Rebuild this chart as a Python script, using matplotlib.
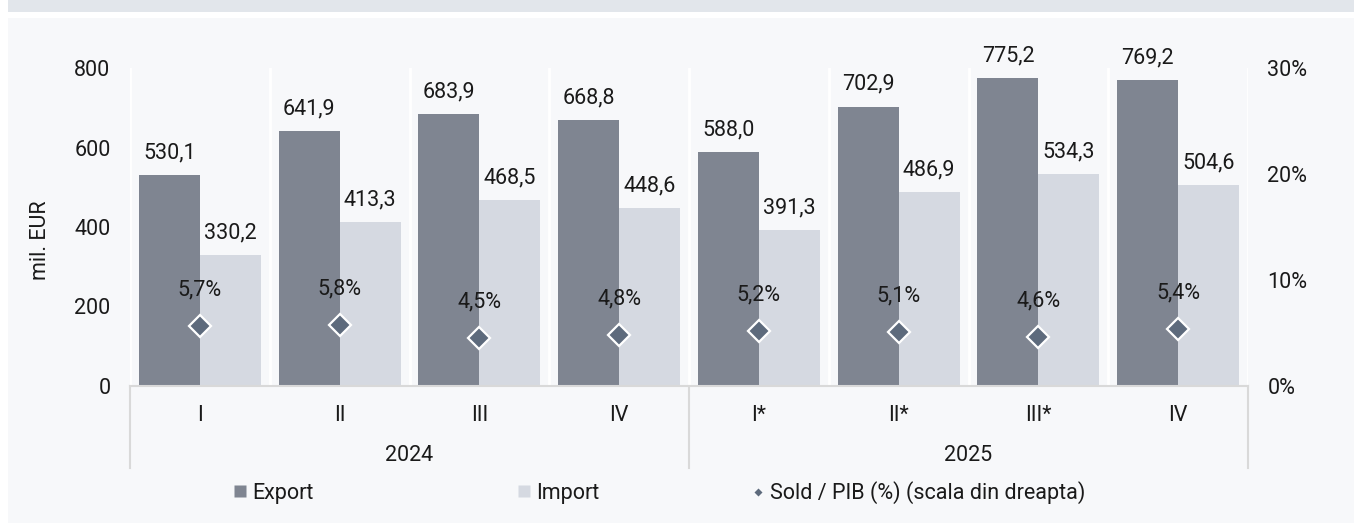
import matplotlib
matplotlib.use("Agg")
import matplotlib.pyplot as plt
from matplotlib.patches import Rectangle
from matplotlib.lines import Line2D
from matplotlib.transforms import blended_transform_factory

plt.rcParams['font.family'] = ['Roboto', 'DejaVu Sans']

quarters = ["I", "II", "III", "IV", "I*", "II*", "III*", "IV"]
years = ["2024", "2025"]
export_vals = [530.1, 641.9, 683.9, 668.8, 588.0, 702.9, 775.2, 769.2]
import_vals = [330.2, 413.3, 468.5, 448.6, 391.3, 486.9, 534.3, 504.6]
sold_pib = [5.7, 5.8, 4.5, 4.8, 5.2, 5.1, 4.6, 5.4]
left_ticks = [0, 200, 400, 600, 800]
right_ticks = [0, 10, 20, 30]

C_EXP = "#7f8591"
C_IMP = "#d5d9e1"
C_DIA = "#5d6a7c"
C_TXT = "#1a1a1a"
FS = 15.5

W, H = 1354, 523
fig = plt.figure(figsize=(W / 100, H / 100), dpi=100)
fig.patch.set_facecolor("white")
fig.add_artist(Rectangle((8 / W, 1 - 12 / H), 1, 12 / H, transform=fig.transFigure,
                         facecolor="#e2e6eb", edgecolor="none", zorder=0))
fig.add_artist(Rectangle((8 / W, 0), 1, 1 - 18 / H, transform=fig.transFigure,
                         facecolor="#f7f8fa", edgecolor="none", zorder=0))

ax_l, ax_r, ax_t, ax_b = 130, 1248, 68, 386
ax = fig.add_axes([ax_l / W, 1 - ax_b / H, (ax_r - ax_l) / W, (ax_b - ax_t) / H])
ax.set_facecolor("none")
ax2 = ax.twinx()

n = len(quarters)
x = list(range(n))
bw = 0.436
xe = [i - bw / 2 for i in x]
xi = [i + bw / 2 for i in x]
ax.bar(xe, export_vals, width=bw, color=C_EXP, zorder=3)
ax.bar(xi, import_vals, width=bw, color=C_IMP, zorder=3)

for xx, v in zip(xe, export_vals):
    ax.annotate(f"{v:.1f}".replace(".", ","), (xx, v), xytext=(0, 12), textcoords="offset points",
                ha="center", va="baseline", fontsize=FS, color=C_TXT, zorder=5)
for xx, v in zip(xi, import_vals):
    ax.annotate(f"{v:.1f}".replace(".", ","), (xx, v), xytext=(0, 12), textcoords="offset points",
                ha="center", va="baseline", fontsize=FS, color=C_TXT, zorder=5)

# white separators between categories
for k in range(n + 1):
    ax.axvline(k - 0.5, color="white", lw=2, zorder=1)

ax.set_xlim(-0.5, n - 0.5)
ax.set_ylim(0, 800)
ax.set_yticks(left_ticks)
ax.set_yticklabels([str(t) for t in left_ticks])
ax.set_xticks(x)
ax.set_xticklabels(quarters)
ax.tick_params(axis="both", length=0, labelsize=FS, colors=C_TXT)
ax.tick_params(axis="y", pad=14)
ax.tick_params(axis="x", pad=14)
for s in ["top", "right", "left"]:
    ax.spines[s].set_visible(False)
ax.spines["bottom"].set_color("#d9d9d9")
ax.spines["bottom"].set_linewidth(1.5)
ax.spines["bottom"].set_zorder(4)

# year level
trans = blended_transform_factory(ax.transData, ax.transAxes)
for sx in [-0.5, 3.5, 7.5]:
    ax.add_line(Line2D([sx, sx], [0, -0.258], transform=trans, color="#d9d9d9", lw=1.5, clip_on=False))
ax.text(1.5, -0.217, years[0], transform=trans, ha="center", va="center", fontsize=FS, color=C_TXT)
ax.text(5.5, -0.217, years[1], transform=trans, ha="center", va="center", fontsize=FS, color=C_TXT)

# right axis
ax2.plot(x, sold_pib, linestyle="none", marker="D", ms=11, mfc=C_DIA, mec="white", mew=1.6, zorder=6)
for xx, v in zip(x, sold_pib):
    ax2.annotate(f"{v:.1f}%".replace(".", ","), (xx, v), xytext=(0, 22), textcoords="offset points",
                 ha="center", va="baseline", fontsize=FS, color=C_TXT, zorder=7)
ax2.set_ylim(0, 30)
ax2.set_yticks(right_ticks)
ax2.set_yticklabels([f"{t}%" for t in right_ticks])
ax2.tick_params(axis="y", length=0, labelsize=FS, colors=C_TXT, pad=14)
for s in ["top", "right", "left", "bottom"]:
    ax2.spines[s].set_visible(False)

fig.text(40 / W, 1 - 240 / H, "mil. EUR", rotation=90, ha="center", va="center", fontsize=FS, color=C_TXT)

# legend
ly = 1 - 493 / H
h_exp = Line2D([], [], linestyle="none", marker="s", ms=8, mfc=C_EXP, mec="none")
h_imp = Line2D([], [], linestyle="none", marker="s", ms=8, mfc=C_IMP, mec="none")
h_sold = Line2D([], [], linestyle="none", marker="D", ms=4.5, mfc=C_DIA, mec="none")
for h, lab, xp in [(h_exp, "Export", 232), (h_imp, "Import", 516), (h_sold, "Sold / PIB (%) (scala din dreapta)", 750)]:
    lg = fig.legend([h], [lab], loc="center left", bbox_to_anchor=(xp / W, ly), frameon=False,
                    fontsize=FS, handlelength=0.7, handletextpad=0.25, borderpad=0, borderaxespad=0)
    for t in lg.get_texts():
        t.set_color(C_TXT)

fig.savefig("out.png", dpi=100, facecolor=fig.get_facecolor())
